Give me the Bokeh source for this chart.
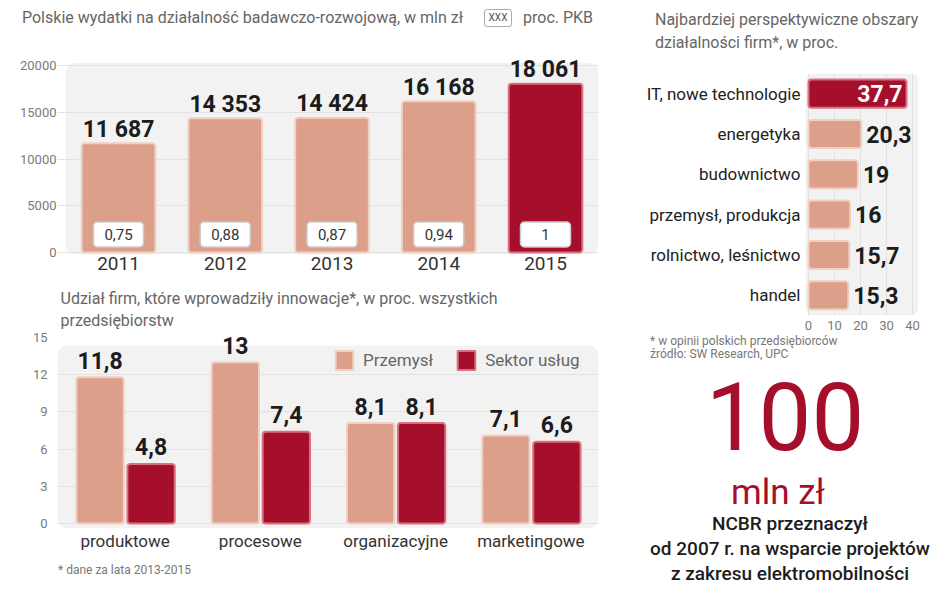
from bokeh.plotting import figure
from bokeh.models import (FactorRange, Range1d, FixedTicker, BoxAnnotation, Label,
                          Legend, LegendItem, ColumnDataSource, Div)
from bokeh.layouts import row, column
from bokeh.transform import dodge
from bokeh.core.properties import value
from bokeh.embed import file_html
from bokeh.resources import INLINE

FONT = "Roboto"
SALMON = "#dc9f89"
SALMON_EDGE = "#f1cfc3"
RED = "#a60f2c"
RED_EDGE = "#d8707f"
BOX = "#f2f2f2"
GRID = "#e2e2e2"
TITLE_C = "#666666"
TICK_C = "#7a7a7a"
DARK = "#1c1c1c"

# ---------------- data ----------------
years = ["2011", "2012", "2013", "2014", "2015"]
rd_spending = [11687, 14353, 14424, 16168, 18061]
gdp_share = [0.75, 0.88, 0.87, 0.94, 1]
spend_ticks = [0, 5000, 10000, 15000, 20000]

innov_types = ["produktowe", "procesowe", "organizacyjne", "marketingowe"]
industry = [11.8, 13, 8.1, 7.1]
services = [4.8, 7.4, 8.1, 6.6]
share_ticks = [0, 3, 6, 9, 12, 15]

areas = ["IT, nowe technologie", "energetyka", "budownictwo",
         "przemysł, produkcja", "rolnictwo, leśnictwo", "handel"]
area_share = [37.7, 20.3, 19, 16, 15.7, 15.3]
area_ticks = [0, 10, 20, 30, 40]


def pl(v):
    return f"{v:g}".replace(".", ",")


def thousands(v):
    return f"{v:,}".replace(",", " ")


def style_axes(p):
    for ax in p.axis:
        ax.axis_line_color = None
        ax.major_tick_line_color = None
        ax.minor_tick_line_color = None
        ax.major_tick_out = 0
        ax.major_tick_in = 0
        ax.minor_tick_out = 0
        ax.minor_tick_in = 0
        ax.major_label_text_font = FONT
    p.outline_line_color = None
    p.background_fill_color = None
    p.border_fill_color = "white"


def css_text(left, top, text, size, color, lh=None, weight=400, center=False, extra=""):
    lh = lh or size
    tr = "transform:translateX(-50%);text-align:center;" if center else ""
    return (f'<div style="position:absolute;left:{left}px;top:{top}px;white-space:nowrap;'
            f'font-family:Roboto,sans-serif;font-size:{size}px;line-height:{lh}px;'
            f'color:{color};font-weight:{weight};{tr}{extra}">{text}</div>')


def make_div(width, height, items):
    html = (f'<div style="position:relative;width:{width}px;height:{height}px;'
            f'overflow:visible;">' + "".join(items) + "</div>")
    return Div(text=html, width=width, height=height, margin=(0, 0, 0, 0))


LEFT_W = 616
RIGHT_W = 316

# ---------------- chart 1 title ----------------
div1 = make_div(LEFT_W, 40, [
    css_text(22, 8, "Polskie wydatki na działalność badawczo-rozwojową, w mln zł", 16, TITLE_C, lh=20),
    css_text(484, 9, "XXX", 10, "#555555", lh=16,
             extra="width:28px;text-align:center;border:1px solid #aaaaaa;border-radius:3px;"),
    css_text(523, 8, "proc. PKB", 16, TITLE_C, lh=20),
])

# ---------------- chart 1 ----------------
x1 = list(range(len(years)))
p1 = figure(width=LEFT_W, height=245, x_range=Range1d(-0.5714, 4.4965),
            y_range=Range1d(-214, 20963), output_backend="svg", toolbar_location=None,
            min_border_left=57, min_border_right=18, min_border_top=16, min_border_bottom=31)
style_axes(p1)
p1.add_layout(BoxAnnotation(left=-0.4965, top=20300, fill_color=BOX, fill_alpha=1,
                            line_color=None, border_radius=10, level="image"))
p1.xgrid.grid_line_color = None
p1.ygrid.grid_line_color = GRID
p1.ygrid.ticker = FixedTicker(ticks=spend_ticks)
p1.yaxis.ticker = FixedTicker(ticks=spend_ticks)
p1.yaxis.major_label_text_font_size = "13px"
p1.yaxis.major_label_text_color = TICK_C
p1.yaxis.major_label_standoff = 1
p1.xaxis.ticker = FixedTicker(ticks=x1)
p1.xaxis.major_label_overrides = {i: y for i, y in zip(x1, years)}
p1.xaxis.major_label_text_font_size = "19px"
p1.xaxis.major_label_text_color = "#333333"
p1.xaxis.major_label_standoff = 2

src1 = ColumnDataSource(dict(
    x=x1, year=years, spend=rd_spending,
    spend_lbl=[thousands(v) for v in rd_spending],
    gdp_lbl=[pl(v) for v in gdp_share],
    fill=[RED if y == years[-1] else SALMON for y in years],
    edge=[RED_EDGE if y == years[-1] else SALMON_EDGE for y in years],
))
p1.vbar(x="x", top="spend", width=0.69, source=src1, fill_color="fill",
        line_color="edge", line_width=2, border_radius=3)
p1.text(x="x", y="spend", text="spend_lbl", source=src1, text_align="center",
        text_baseline="middle", y_offset=-14, text_font=value(FONT),
        text_font_style="bold", text_font_size="23px", text_color=DARK)
p1.rect(x="x", y=1925, width=50, height=25, width_units="screen", height_units="screen",
        source=src1, fill_color="white", line_color="#cccccc", line_width=1.5, border_radius=4)
p1.text(x="x", y=1925, text="gdp_lbl", source=src1, text_align="center",
        text_baseline="middle", text_font=value(FONT), text_font_size="15px",
        text_color="#333333")

# ---------------- chart 2 ----------------
p2 = figure(width=LEFT_W, height=270, x_range=FactorRange(factors=innov_types),
            y_range=Range1d(-0.403, 19.19), output_backend="svg", toolbar_location=None,
            min_border_left=57, min_border_right=18, min_border_top=0, min_border_bottom=27)
style_axes(p2)
p2.add_layout(BoxAnnotation(top=14.35, fill_color=BOX, fill_alpha=1, line_color=None,
                            border_radius=10, level="image"))
p2.xgrid.grid_line_color = None
p2.ygrid.grid_line_color = GRID
p2.ygrid.ticker = FixedTicker(ticks=share_ticks[:-1])
p2.yaxis.ticker = FixedTicker(ticks=share_ticks)
p2.yaxis.major_label_text_font_size = "13px"
p2.yaxis.major_label_text_color = TICK_C
p2.yaxis.major_label_standoff = 10
p2.xaxis.major_label_text_font_size = "17px"
p2.xaxis.major_label_text_color = "#333333"
p2.xaxis.major_label_standoff = 2

src2 = ColumnDataSource(dict(
    cat=innov_types, ind=industry, srv=services,
    ind_lbl=[pl(v) for v in industry], srv_lbl=[pl(v) for v in services],
))
OFF_IND, OFF_SRV = -0.185, 0.192
r_ind = p2.vbar(x=dodge("cat", OFF_IND, range=p2.x_range), top="ind", width=0.35, source=src2,
                fill_color=SALMON, line_color=SALMON_EDGE, line_width=2, border_radius=3)
r_srv = p2.vbar(x=dodge("cat", OFF_SRV, range=p2.x_range), top="srv", width=0.35, source=src2,
                fill_color=RED, line_color=RED_EDGE, line_width=2, border_radius=3)
for off, col, lbl in ((OFF_IND, "ind", "ind_lbl"), (OFF_SRV, "srv", "srv_lbl")):
    p2.text(x=dodge("cat", off, range=p2.x_range), y=col, text=lbl, source=src2,
            text_align="center", text_baseline="middle", y_offset=-17,
            text_font=value(FONT), text_font_style="bold", text_font_size="23px",
            text_color=DARK)

legend = Legend(items=[LegendItem(label="Przemysł", renderers=[r_ind]),
                       LegendItem(label="Sektor usług", renderers=[r_srv])],
                orientation="horizontal", location=(276, 156), padding=0, margin=0,
                spacing=22, label_standoff=8, glyph_width=22, glyph_height=24,
                label_height=24, label_text_font=FONT, label_text_font_size="17px",
                label_text_color=TITLE_C, background_fill_alpha=0, border_line_color=None)
p2.add_layout(legend)

for sy, txt in ((230, "Udział firm, które wprowadziły innowacje*, w proc. wszystkich"),
                (208, "przedsiębiorstw")):
    p2.add_layout(Label(x=3, y=sy, x_units="screen", y_units="screen", text=txt,
                        text_font=FONT, text_font_size="16px", text_color=TITLE_C,
                        text_baseline="middle"))

div_foot = make_div(LEFT_W, 30, [
    css_text(58, 8, "* dane za lata 2013-2015", 12, "#777777", lh=14),
])

# ---------------- chart 3 title ----------------
div3 = make_div(RIGHT_W, 60, [
    css_text(39, 8, "Najbardziej perspektywiczne obszary<br>działalności firm*, w proc.",
             16, TITLE_C, lh=23),
])

# ---------------- chart 3 ----------------
p3 = figure(width=RIGHT_W, height=275, y_range=FactorRange(factors=areas[::-1]),
            x_range=Range1d(-1.154, 42.31), output_backend="svg", toolbar_location=None,
            min_border_left=189, min_border_right=14, min_border_top=13, min_border_bottom=20)
style_axes(p3)
p3.add_layout(BoxAnnotation(fill_color=BOX, fill_alpha=1, line_color=None,
                            border_radius=8, level="image"))
p3.ygrid.grid_line_color = None
p3.xgrid.grid_line_color = GRID
p3.xgrid.ticker = FixedTicker(ticks=area_ticks)
p3.xaxis.ticker = FixedTicker(ticks=area_ticks)
p3.xaxis.major_label_text_font_size = "13px"
p3.xaxis.major_label_text_color = TICK_C
p3.xaxis.major_label_standoff = 5
p3.yaxis.major_label_text_font_size = "17px"
p3.yaxis.major_label_text_color = "#222222"
p3.yaxis.major_label_standoff = 5

top_share = max(area_share)
src3 = ColumnDataSource(dict(
    area=areas, share=area_share, lbl=[pl(v) for v in area_share],
    fill=[RED if v == top_share else SALMON for v in area_share],
    edge=[RED_EDGE if v == top_share else SALMON_EDGE for v in area_share],
))
p3.hbar(y="area", left=0, right="share", height=0.7, source=src3, fill_color="fill",
        line_color="edge", line_width=2, border_radius=3)
inside = [i for i, v in enumerate(area_share) if v == top_share]
outside = [i for i, v in enumerate(area_share) if v != top_share]
src3_in = ColumnDataSource(dict(area=[areas[i] for i in inside],
                                share=[area_share[i] for i in inside],
                                lbl=[pl(area_share[i]) for i in inside]))
src3_out = ColumnDataSource(dict(area=[areas[i] for i in outside],
                                 share=[area_share[i] for i in outside],
                                 lbl=[pl(area_share[i]) for i in outside]))
p3.text(x="share", y="area", text="lbl", source=src3_in, x_offset=-4, text_align="right",
        text_baseline="middle", text_font=value(FONT), text_font_style="bold",
        text_font_size="23px", text_color="white")
p3.text(x="share", y="area", text="lbl", source=src3_out, x_offset=5, text_align="left",
        text_baseline="middle", text_font=value(FONT), text_font_style="bold",
        text_font_size="23px", text_color=DARK)

# ---------------- text block ----------------
div4 = make_div(RIGHT_W, 250, [
    css_text(34, 0, "* w opinii polskich przedsiębiorców", 12, "#777777", lh=13),
    css_text(34, 13, "źródło: SW Research, UPC", 12, "#777777", lh=13),
    css_text(169, 43, "100", 94, RED, lh=80, center=True),
    css_text(162, 140, "mln zł", 35, RED, lh=35, center=True),
    css_text(174, 176, "NCBR przeznaczył<br>od 2007 r. na wsparcie projektów<br>"
             "z zakresu elektromobilności", 19, DARK, lh=25, weight=500, center=True),
])

layout = row(column(div1, p1, p2, div_foot), column(div3, p3, div4))
open("out.html", "w").write(file_html(layout, INLINE))
